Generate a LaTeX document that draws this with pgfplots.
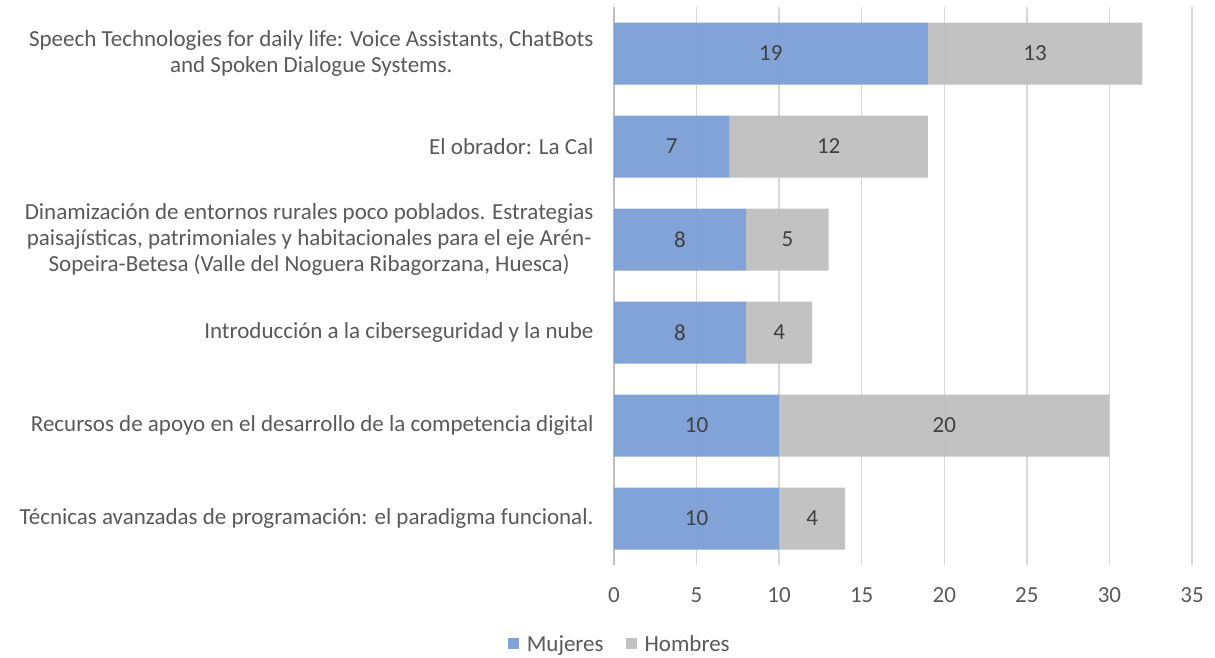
\documentclass[border=0pt]{standalone}
\usepackage{fontspec}
\setmainfont{Carlito}
\usepackage{pgfplots}
\pgfplotsset{compat=1.18}
\definecolor{muj}{HTML}{7B9ED6}
\definecolor{hom}{HTML}{BFBFBF}
\definecolor{txt}{HTML}{595959}
\definecolor{num}{HTML}{404040}
\definecolor{grd}{HTML}{D9D9D9}
\pgfplotsset{
  common/.style={
    at={(0,0)}, anchor=south west,
    scale only axis, width=578pt, height=558pt,
    xmin=0, xmax=35, ymin=-0.5, ymax=5.5, y dir=reverse,
  }
}
\begin{document}
\begin{tikzpicture}
\path[use as bounding box] (-614pt,-92pt) rectangle (601pt,565pt);
\begin{axis}[
  common,
  xbar stacked, bar width=62pt,
  xtick={0,5,...,35}, ytick={0,...,5},
  yticklabels={
    {Speech Technologies for daily life: Voice Assistants, ChatBots\\and Spoken Dialogue Systems.},
    {El obrador: La Cal},
    {Dinamización de entornos rurales poco poblados. Estrategias\\paisajísticas, patrimoniales y habitacionales para el eje Arén-\\Sopeira-Betesa (Valle del Noguera Ribagorzana, Huesca)},
    {Introducción a la ciberseguridad y la nube},
    {Recursos de apoyo en el desarrollo de la competencia digital},
    {Técnicas avanzadas de programación: el paradigma funcional.}
  },
  major tick length=0pt,
  axis y line*=left, axis x line*=bottom,
  x axis line style={draw=none},
  y axis line style={draw=hom, line width=1.5pt},
  xmajorgrids, grid style={draw=grd, line width=1.5pt},
  /pgf/number format/assume math mode=true,
  yticklabel style={align=center, font=\fontsize{23}{26}\selectfont, text=txt, xshift=-17pt},
  xticklabel style={font=\fontsize{23}{26}\selectfont, text=txt, yshift=-19pt},
  legend style={at={(0.01,-0.1416)}, anchor=center, draw=none, legend columns=2,
    font=\fontsize{23}{26}\selectfont, text=txt,
    /tikz/every odd column/.append style={column sep=6pt},
    /tikz/every even column/.append style={column sep=20pt}},
  legend image code/.code={\fill[#1] (0pt,-5pt) rectangle (11pt,6pt);},
]
\addplot[fill=muj, draw=none, fill opacity=0.95] coordinates {(19,0) (7,1) (8,2) (8,3) (10,4) (10,5)};
\addplot[fill=hom, draw=none, fill opacity=0.95] coordinates {(13,0) (12,1) (5,2) (4,3) (20,4) (4,5)};
\legend{Mujeres, Hombres}
\end{axis}
\begin{axis}[
  common, hide axis,
  nodes near coords, point meta=explicit symbolic,
  every node near coord/.append style={anchor=center, font=\fontsize{23}{26}\selectfont, text=num},
]
\addplot[only marks, mark=none] coordinates {(9.5,0)[19] (3.5,1)[7] (4,2)[8] (4,3)[8] (5,4)[10] (5,5)[10]};
\addplot[only marks, mark=none] coordinates {(25.5,0)[13] (13,1)[12] (10.5,2)[5] (10,3)[4] (20,4)[20] (12,5)[4]};
\end{axis}
\end{tikzpicture}
\end{document}
